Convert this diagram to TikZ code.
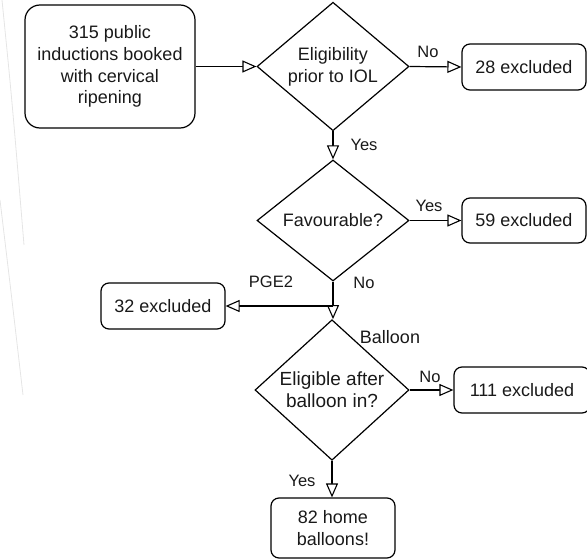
\documentclass[tikz,border=0pt]{standalone}
\usepackage{fontspec}
\setmainfont{Liberation Sans}
\usetikzlibrary{shapes.geometric,arrows.meta}
\begin{document}
\begin{tikzpicture}[x=1pt,y=-1pt,
  every node/.style={font=\fontsize{18}{21.7}\selectfont, align=center, inner sep=0pt, text=black!90},
  rbox/.style={draw, line width=1.2pt, rounded corners=8pt},
  dia/.style={draw, diamond, line width=1.2pt, minimum width=152pt, minimum height=123pt},
  lbl/.style={font=\fontsize{16.5}{19}\selectfont},
  arr/.style={line width=1.2pt, -{Triangle[open, length=14pt, width=12pt, fill=white, line width=1.1pt]}},
  faint/.style={black!10, line width=0.8pt}]
\useasboundingbox (0,0) rectangle (587,559);
\draw[faint] (2,0) .. controls (12,100) .. (24,245);
\draw[faint] (0,200) .. controls (12,300) .. (23,395);
% nodes
\node[rbox, rounded corners=15pt, minimum width=170pt, minimum height=123pt] (start) at (110,66.5) {315 public\\inductions booked\\with cervical\\ripening};
\node[dia] (d1) at (333,66.5) {Eligibility\\prior to IOL};
\node[rbox, minimum width=124pt, minimum height=46pt] (b28) at (524,67) {28 excluded};
\node[dia, minimum height=121pt] (d2) at (333,220.5) {Favourable?};
\node[rbox, minimum width=124pt, minimum height=45pt] (b59) at (524,220.5) {59 excluded};
\node[rbox, minimum width=124pt, minimum height=46pt] (b32) at (163,306) {32 excluded};
\node[dia, minimum width=154pt, minimum height=122pt, font=\fontsize{19}{22}\selectfont] (d3) at (332,390) {Eligible after\\balloon in?};
\node[rbox, minimum width=136pt, minimum height=46pt] (b111) at (522,390) {111 excluded};
\node[rbox, minimum width=124pt, minimum height=60pt] (b82) at (333,528) {82 home\\balloons!};
\coordinate (j) at (333,306);
% connectors
\draw[arr] (start.east) -- (d1.west);
\draw[arr] (d1.east) -- (b28.west);
\draw[arr] (d1.south) -- (d2.north);
\draw[arr] (d2.east) -- (b59.west);
\draw[arr] (d2.south) -- (d2.south |- d3.north);
\draw[arr] (j) -- (b32.east);
\draw[arr] (d3.east) -- (b111.west);
\draw[arr] (d3.south) -- (d3.south |- b82.north);
% labels
\node[lbl] (l1) at (428,52) {No};
\node[lbl] (l2) at (364,145) {Yes};
\node[lbl] (l3) at (429,206) {Yes};
\node[lbl] (l4) at (364,283) {No};
\node[lbl] (l5) at (271,282) {PGE2};
\node (l6) at (390,337) {Balloon};
\node[lbl] (l7) at (430,377) {No};
\node[lbl] (l8) at (302,481) {Yes};
\end{tikzpicture}
\end{document}
